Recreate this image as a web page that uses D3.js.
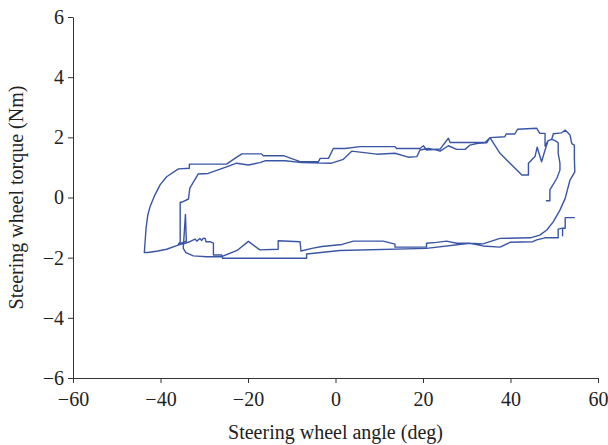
<!DOCTYPE html>
<html>
<head>
<meta charset="utf-8">
<script src="https://cdn.jsdelivr.net/npm/d3@7"></script>
<style>
  html, body { margin: 0; padding: 0; background: #fff; }
  svg { display: block; }
  .axis text { font-family: "Liberation Serif", "Times New Roman", serif; font-size: 20px; fill: #222; }
  .axis path, .axis line { stroke: #333; stroke-width: 1; }
  .title { font-family: "Liberation Serif", "Times New Roman", serif; font-size: 20px; fill: #222; }
</style>
</head>
<body>
<svg id="chart" width="608" height="445"></svg>
<script>
// Steering wheel angle (deg) recorded along the manoeuvre
const angle = [
  54.7, 52.5, 52.5, 51.9, 51.9, 51.9, 50.9, 50.9, 47.9, 46.0, 45.1, 39.9, 37.6, 33.7, 30.7,
  20.8, 1.0, -6.6, -6.6, -25.8, -26.0, -27.9, -27.9, -28.7, -29.6, -29.8, -30.2, -30.6, -31.0,
  -31.7, -32.1, -33.3, -34.4, -35.2, -36.3, -38.6, -40.6, -42.9, -43.7,
  -43.3, -42.9, -42.4, -41.3, -40.1, -38.6, -35.9, -33.4, -33.4, -24.9, -23.0, -21.4, -16.9,
  -16.5, -11.9, -8.1, -3.9, -3.5, -1.6, -0.5, 2.2, 5.6, 13.6, 14.0, 19.3, 20.1, 20.8, 23.9,
  25.8, 26.2, 30.7, 34.2, 35.3, 38.7, 39.0, 41.0, 41.6, 46.0, 46.7, 47.9, 47.9, 48.6, 49.4,
  49.8, 51.7, 52.5, 53.6, 54.0, 54.6, 54.6, 54.7, 53.6, 52.5, 51.3, 49.8, 48.3, 46.7, 44.5,
  37.6, 33.7, 30.7,
  27.7, 25.4, 23.1, 20.8, 20.8, 13.6, 13.6, 10.9, 4.1, 1.5, -3.1, -5.4, -7.9, -8.1, -13.1,
  -13.1, -17.3, -19.9, -22.5, -25.9, -29.4, -32.5, -34.2, -34.8, -34.3, -34.1, -35.9, -35.5,
  -35.5, -35.2, -33.6, -33.3, -31.4, -29.1, -24.9, -22.6, -19.9, -17.3, -16.1, -11.5, -7.7,
  -0.9, 1.8, 3.7, 9.4, 13.6, 16.6, 18.6, 19.3, 21.2, 23.1, 23.9, 25.8, 27.7, 29.6, 30.7,
  32.6, 34.6, 35.3,
  37.6, 42.6, 44.1, 44.1, 45.6, 46.1, 47.1, 47.9, 48.6, 49.4, 50.2, 50.9, 50.9, 51.3, 51.3,
  50.6, 49.0, 49.0, 48.1
];

// Steering wheel torque (Nm) at the same samples
const torque = [
  -0.67, -0.67, -1.02, -1.02, -1.27, -1.02, -1.05, -1.34, -1.34, -1.41, -1.47, -1.49, -1.65, -1.61, -1.52,
  -1.69, -1.76, -1.88, -2.02, -2.02, -1.91, -1.91, -1.52, -1.47, -1.47, -1.36, -1.35, -1.43, -1.36,
  -1.45, -1.38, -1.47, -1.52, -1.55, -1.60, -1.72, -1.78, -1.83, -1.83,
  -1.02, -0.58, -0.31, 0.08, 0.42, 0.69, 0.95, 0.97, 1.11, 1.11, 1.30, 1.45, 1.45,
  1.39, 1.39, 1.19, 1.19, 1.30, 1.30, 1.63, 1.63, 1.69, 1.69, 1.63, 1.63, 1.72, 1.58, 1.61,
  1.97, 1.83, 1.83, 1.83, 1.99, 2.02, 2.11, 2.11, 2.27, 2.30, 2.13, 2.13, 1.71, 1.89, 1.93,
  2.12, 2.15, 2.24, 2.08, 1.79, 1.74, 1.29, 0.85, 0.58, -0.03, -0.42, -0.80, -1.08, -1.25, -1.34,
  -1.36, -1.54, -1.52,
  -1.52, -1.45, -1.49, -1.52, -1.65, -1.65, -1.55, -1.45, -1.45, -1.56, -1.63, -1.69, -1.78, -1.47, -1.44,
  -1.72, -1.74, -1.46, -1.76, -1.96, -1.97, -1.94, -1.83, -1.69, -0.56, -1.45, -1.55, -1.47,
  -0.16, -0.16, -0.05, 0.31, 0.78, 0.80, 1.02, 1.14, 1.08, 1.16, 1.22, 1.22, 1.16,
  1.14, 1.27, 1.54, 1.44, 1.47, 1.34, 1.36, 1.58, 1.63, 1.58, 1.54, 1.72, 1.60, 1.60, 1.74,
  1.80, 1.82, 1.99,
  1.47, 0.75, 0.75, 1.14, 1.36, 1.67, 1.19, 1.58, 1.89, 1.93, 1.89, 1.82, 1.47, 1.14, 0.91,
  0.64, 0.25, -0.11, -0.11
];

const xTicks = [-60, -40, -20, 0, 20, 40, 60];
const yTicks = [-6, -4, -2, 0, 2, 4, 6];

const width = 608, height = 445;
const margin = { top: 17, right: 10, bottom: 67, left: 73 };

const svg = d3.select("#chart");

const x = d3.scaleLinear().domain([-60, 60]).range([margin.left, width - margin.right]);
const y = d3.scaleLinear().domain([-6, 6]).range([height - margin.bottom, margin.top]);

const fmt = d => d < 0 ? "\u2212" + Math.abs(d) : String(d);

svg.append("g")
  .attr("class", "axis")
  .attr("transform", `translate(0,${height - margin.bottom})`)
  .call(d3.axisBottom(x).tickValues(xTicks).tickFormat(fmt).tickSize(5).tickSizeOuter(0).tickPadding(9));

svg.append("g")
  .attr("class", "axis")
  .attr("transform", `translate(${margin.left},0)`)
  .call(d3.axisLeft(y).tickValues(yTicks).tickFormat(fmt).tickSize(5).tickSizeOuter(0).tickPadding(4));

const pts = angle.map((a, i) => [a, torque[i]]);

svg.append("path")
  .datum(pts)
  .attr("fill", "none")
  .attr("stroke", "#3a55a6")
  .attr("stroke-width", 1.4)
  .attr("stroke-linejoin", "round")
  .attr("d", d3.line().x(d => x(d[0])).y(d => y(d[1])));

svg.append("text")
  .attr("class", "title")
  .attr("x", (margin.left + width - margin.right) / 2)
  .attr("y", 439)
  .attr("text-anchor", "middle")
  .text("Steering wheel angle (deg)");

svg.append("text")
  .attr("class", "title")
  .attr("transform", `translate(23,${(margin.top + height - margin.bottom) / 2}) rotate(-90)`)
  .attr("text-anchor", "middle")
  .text("Steering wheel torque (Nm)");
</script>
</body>
</html>
